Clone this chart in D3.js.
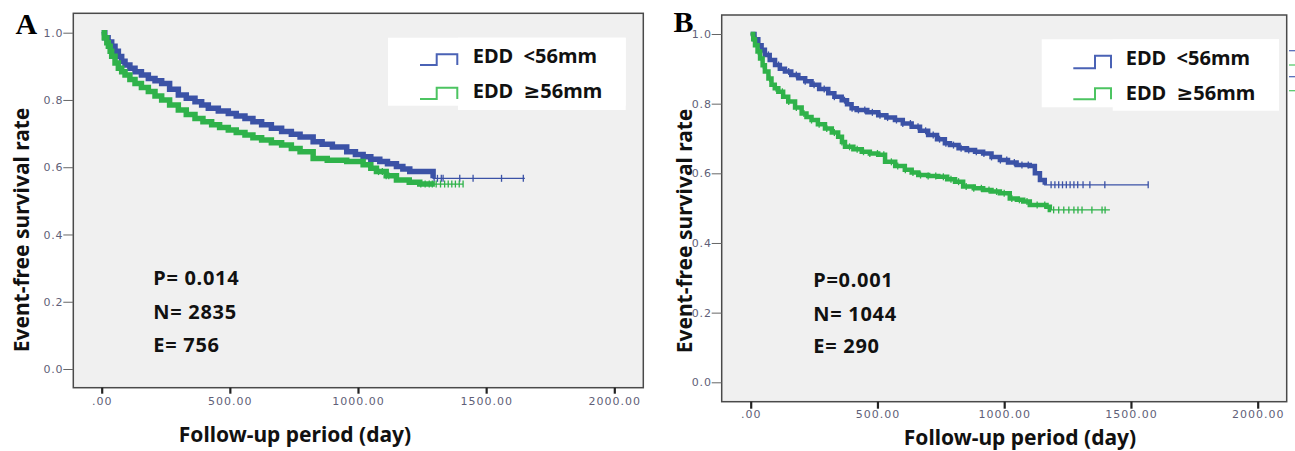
<!DOCTYPE html>
<html>
<head>
<meta charset="utf-8">
<script src="https://cdn.jsdelivr.net/npm/d3@7"></script>
<style>
  html, body { margin: 0; padding: 0; background: #fff; }
  svg { display: block; }
</style>
</head>
<body>
<svg id="chart"></svg>
<script>
// ---- data ----
const xTicks = [0, 500, 1000, 1500, 2000];
const yTicks = [0, 0.2, 0.4, 0.6, 0.8, 1.0];
const groupNames = ["EDD  <56mm", "EDD  \u226556mm"];
const xTitle = "Follow-up period (day)";
const yTitle = "Event-free survival rate";

// panel A : [day, survival]
const aSmall = [[0,1.000],[12,0.985],[25,0.972],[39,0.960],[52,0.945],[65,0.929],[78,0.915],[91,0.904],
  [110,0.894],[130,0.884],[155,0.874],[182,0.864],[208,0.857],[234,0.849],[265,0.832],[299,0.815],
  [330,0.805],[364,0.795],[390,0.785],[416,0.775],[455,0.767],[494,0.760],[525,0.752],[559,0.745],
  [590,0.735],[624,0.726],[662,0.716],[702,0.706],[740,0.698],[774,0.690],[825,0.676],[860,0.668],
  [900,0.660],[956,0.646],[990,0.638],[1020,0.631],[1050,0.624],[1085,0.617],[1115,0.610],[1150,0.602],
  [1175,0.595],[1202,0.587],[1293,0.567],[1651,0.567]];
const aLarge = [[0,1.000],[10,0.985],[20,0.970],[26,0.960],[33,0.945],[39,0.930],[52,0.910],[65,0.894],
  [78,0.884],[91,0.874],[110,0.861],[130,0.849],[155,0.837],[182,0.825],[208,0.812],[234,0.800],
  [265,0.785],[299,0.770],[330,0.757],[364,0.745],[395,0.735],[429,0.726],[460,0.718],[494,0.711],
  [525,0.703],[559,0.696],[590,0.688],[624,0.681],[662,0.673],[702,0.666],[740,0.656],[774,0.646],
  [825,0.626],[880,0.621],[956,0.617],[1020,0.607],[1050,0.597],[1072,0.587],[1110,0.575],[1150,0.562],
  [1200,0.555],[1241,0.550],[1410,0.550]];
const aSmallCensor = [1297, 1310, 1325, 1332, 1397, 1449, 1560, 1645];
const aLargeCensor = [1080, 1095, 1110, 1120, 1245, 1262, 1278, 1290, 1305, 1322, 1338, 1352, 1366, 1380, 1395, 1410];

// panel B
const bSmall = [[0,1.000],[15,0.985],[30,0.968],[43,0.955],[56,0.940],[75,0.925],[96,0.911],[115,0.900],
  [135,0.892],[160,0.882],[188,0.873],[215,0.864],[240,0.854],[270,0.842],[306,0.830],[330,0.820],
  [359,0.810],[380,0.798],[398,0.787],[418,0.782],[460,0.775],[503,0.767],[535,0.760],[569,0.753],
  [600,0.743],[635,0.734],[668,0.722],[700,0.710],[735,0.698],[766,0.686],[786,0.681],[820,0.672],
  [852,0.667],[885,0.662],[917,0.657],[950,0.647],[983,0.638],[1015,0.631],[1049,0.624],[1101,0.621],
  [1121,0.600],[1141,0.581],[1160,0.567],[1568,0.567]];
const bLarge = [[0,1.000],[10,0.985],[17,0.968],[27,0.950],[37,0.930],[47,0.910],[56,0.892],[70,0.872],
  [82,0.854],[95,0.844],[109,0.834],[128,0.820],[148,0.806],[175,0.789],[201,0.772],[220,0.762],
  [240,0.753],[265,0.741],[293,0.729],[320,0.717],[345,0.705],[360,0.690],[372,0.676],[405,0.669],
  [438,0.662],[470,0.657],[503,0.653],[530,0.633],[570,0.621],[608,0.610],[635,0.602],[661,0.595],
  [700,0.592],[740,0.590],[775,0.583],[806,0.576],[838,0.562],[880,0.557],[917,0.552],[950,0.548],
  [983,0.543],[1022,0.528],[1050,0.524],[1075,0.519],[1101,0.509],[1167,0.504],[1180,0.495],[1417,0.495]];
const bSmallCensor = [20, 45, 70, 110, 150, 180, 215, 250, 290, 330, 370, 400, 425, 450, 480, 510, 540,
  575, 600, 630, 660, 690, 720, 745, 770, 800, 830, 860, 890, 920, 950, 985, 1010, 1040, 1070, 1095,
  1185, 1200, 1215, 1230, 1245, 1260, 1275, 1290, 1311, 1338, 1397, 1568];
const bLargeCensor = [15, 30, 50, 75, 100, 125, 150, 180, 210, 240, 270, 300, 330, 360, 390, 420, 445,
  470, 500, 525, 555, 580, 610, 640, 670, 700, 730, 760, 790, 820, 850, 880, 910, 940, 970, 1000, 1030,
  1060, 1090, 1130, 1160, 1195, 1215, 1235, 1255, 1275, 1291, 1307, 1346, 1386, 1398];

const statsA = ["P= 0.014", "N= 2835", "E= 756"];
const statsB = ["P=0.001", "N= 1044", "E= 290"];

// ---- styles ----
const blue = "#3b52a6";
const green = "#2fb24a";
const blueLeg = "#4a62b5";
const greenLeg = "#4cc461";
const boldFont = "'Noto Sans', 'DejaVu Sans', sans-serif";
const tickFont = "'DejaVu Sans', sans-serif";

const svg = d3.select("#chart").attr("width", 1295).attr("height", 451);

// step lookup
function survAt(data, t) {
    let s = data[0][1];
    for (const p of data) { if (p[0] <= t) s = p[1]; }
    return s;
}

function drawPanel(cfg) {
    const g = svg.append("g");
    const x = d3.scaleLinear().domain([0, 2000]).range(cfg.xRange);
    const y = d3.scaleLinear().domain([0, 1]).range(cfg.yRange);
    const f = cfg.frame;

    // plot background + frame
    g.append("rect")
        .attr("x", f[0]).attr("y", f[1])
        .attr("width", f[2] - f[0]).attr("height", f[3] - f[1])
        .attr("fill", "#f0f0f0")
        .attr("stroke", "#4a4a4a")
        .attr("stroke-width", 1.5);

    // y axis
    const yAxis = d3.axisLeft(y).tickValues(yTicks).tickFormat(d3.format(".1f")).tickSize(10).tickPadding(0);
    const ya = g.append("g").attr("transform", `translate(${f[0]},0)`).call(yAxis);
    ya.select(".domain").remove();
    ya.selectAll("line").attr("stroke", "#666").attr("stroke-width", 1);
    ya.selectAll("text")
        .attr("fill", "#5f5f78")
        .style("font-family", tickFont)
        .style("font-size", "11px")
        .style("letter-spacing", "0.8px");

    // x axis
    const xAxis = d3.axisBottom(x).tickValues(xTicks).tickFormat(d => d === 0 ? ".00" : d3.format(".2f")(d))
        .tickSize(cfg.xTickLen).tickPadding(cfg.xLabelPad);
    const xa = g.append("g").attr("transform", `translate(0,${f[3]})`).call(xAxis);
    xa.select(".domain").remove();
    xa.selectAll("line").attr("stroke", "#222").attr("stroke-width", 2.2);
    xa.selectAll("text")
        .attr("fill", "#5f5f78")
        .style("font-family", tickFont)
        .style("font-size", "11px")
        .style("letter-spacing", "1px");

    // curves
    const line = d3.line().x(d => x(d[0])).y(d => y(d[1])).curve(d3.curveStepAfter);
    cfg.series.forEach(s => {
        const band = s.data.filter(d => d[0] <= s.bandEnd);
        band.push([s.bandEnd, survAt(s.data, s.bandEnd)]);
        g.append("path").attr("d", line(s.data))
            .attr("fill", "none").attr("stroke", s.color).attr("stroke-width", 1.3);
        g.append("path").attr("d", line(band))
            .attr("fill", "none").attr("stroke", s.color)
            .attr("stroke-width", cfg.bandWidth).attr("stroke-linejoin", "miter");
        g.append("g").selectAll("line")
            .data(s.censor)
            .join("line")
            .attr("x1", d => x(d)).attr("x2", d => x(d))
            .attr("y1", d => y(survAt(s.data, d)) - cfg.censorLen / 2)
            .attr("y2", d => y(survAt(s.data, d)) + cfg.censorLen / 2)
            .attr("stroke", s.color).attr("stroke-width", 1.3);
    });

    // legend
    cfg.legendRects.forEach(r => {
        g.append("rect").attr("x", r[0]).attr("y", r[1])
            .attr("width", r[2] - r[0]).attr("height", r[3] - r[1]).attr("fill", "#fff");
    });
    const lx = cfg.legendSym;
    cfg.legendRows.forEach((row, i) => {
        g.append("path")
            .attr("d", `M${lx[0]},${row.low}H${lx[1]}V${row.high}H${lx[2]}V${row.low}`)
            .attr("fill", "none").attr("stroke", row.color).attr("stroke-width", 2);
        g.append("text")
            .attr("x", cfg.legendTextX).attr("y", row.base)
            .style("white-space", "pre")
            .style("font-family", boldFont).style("font-weight", "bold").style("font-size", "20px")
            .attr("fill", "#111")
            .text(groupNames[i]);
    });

    // stats
    g.append("g").selectAll("text")
        .data(cfg.stats)
        .join("text")
        .attr("x", cfg.statsX)
        .attr("y", (d, i) => cfg.statsBase[i])
        .style("font-family", boldFont).style("font-weight", "bold").style("font-size", "20px")
        .style("letter-spacing", "0.7px")
        .attr("fill", "#111")
        .text(d => d);

    // titles
    g.append("text")
        .attr("transform", `translate(${cfg.yTitlePos[0]},${cfg.yTitlePos[1]}) rotate(-90)`)
        .attr("text-anchor", "middle")
        .style("font-family", boldFont).style("font-weight", "bold").style("font-size", "21px")
        .attr("fill", "#111")
        .text(yTitle);
    g.append("text")
        .attr("x", cfg.xTitlePos[0]).attr("y", cfg.xTitlePos[1])
        .attr("text-anchor", "middle")
        .style("font-family", boldFont).style("font-weight", "bold").style("font-size", "21px")
        .attr("fill", "#111")
        .text(xTitle);

    // panel letter
    g.append("text")
        .attr("x", cfg.letterPos[0]).attr("y", cfg.letterPos[1])
        .style("font-family", "'Liberation Serif', 'Times New Roman', serif")
        .style("font-weight", "bold").style("font-size", "30px")
        .attr("fill", "#000")
        .text(cfg.letter);
}

drawPanel({
    letter: "A", letterPos: [15.5, 33.5],
    frame: [73.3, 13.3, 643.3, 387.7],
    xRange: [101.7, 614.3], yRange: [369, 32.7],
    xTickLen: 6, xLabelPad: 3.5,
    bandWidth: 5.5, censorLen: 7,
    series: [
        {data: aSmall, censor: aSmallCensor, color: blue, bandEnd: 1293},
        {data: aLarge, censor: aLargeCensor, color: green, bandEnd: 1300}
    ],
    legendRects: [[388, 37.7, 625.7, 105.7], [458, 37.7, 625.7, 110]],
    legendSym: [420, 436.7, 457.3],
    legendRows: [
        {low: 65, high: 54.3, color: blueLeg, base: 63.3},
        {low: 99, high: 87.7, color: greenLeg, base: 98.3}
    ],
    legendTextX: 472.7,
    stats: statsA, statsX: 153.3, statsBase: [285, 319, 352.3],
    yTitlePos: [28.5, 230], xTitlePos: [295, 441.7]
});

drawPanel({
    letter: "B", letterPos: [673.5, 32],
    frame: [721.7, 15, 1286.7, 401.7],
    xRange: [750.7, 1257.7], yRange: [382.3, 34],
    xTickLen: 7, xLabelPad: 1.8,
    bandWidth: 4.5, censorLen: 7,
    series: [
        {data: bSmall, censor: bSmallCensor, color: blue, bandEnd: 1160},
        {data: bLarge, censor: bLargeCensor, color: green, bandEnd: 1185}
    ],
    legendRects: [[1041.7, 39.3, 1279, 107.3], [1112.7, 39.3, 1279, 110.7]],
    legendSym: [1073.3, 1095, 1111],
    legendRows: [
        {low: 68.3, high: 55.7, color: blueLeg, base: 65},
        {low: 99.3, high: 88.3, color: greenLeg, base: 100}
    ],
    legendTextX: 1125.7,
    stats: statsB, statsX: 813.3, statsBase: [286.7, 320.7, 353.3],
    yTitlePos: [692, 231], xTitlePos: [1020, 445]
});

// cropped legend remnants at the right edge
svg.append("g").selectAll("line")
    .data([[50.7, blueLeg], [65, greenLeg], [76.7, blueLeg], [90.7, greenLeg]])
    .join("line")
    .attr("x1", 1289).attr("x2", 1295)
    .attr("y1", d => d[0]).attr("y2", d => d[0])
    .attr("stroke", d => d[1]).attr("stroke-width", 1.2);
</script>
</body>
</html>
